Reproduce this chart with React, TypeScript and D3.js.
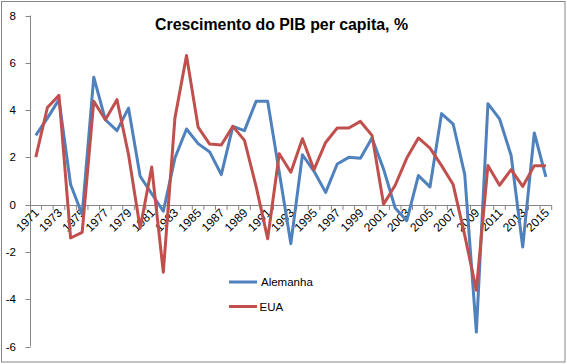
import React from 'react';
import * as d3 from 'd3';

const years = d3.range(1971, 2016).map(String);

const alemanha = [
  2.93, 3.66, 4.44, 0.85, -0.42, 5.39, 3.59, 3.13, 4.08, 1.2,
  0.46, -0.28, 1.97, 3.2, 2.58, 2.23, 1.27, 3.31, 3.13, 4.37,
  4.37, 1.37, -1.65, 2.11, 1.41, 0.52, 1.72, 2.0, 1.96, 2.82,
  1.5, -0.14, -0.68, 1.23, 0.75, 3.85, 3.41, 1.27, -5.39, 4.27,
  3.63, 2.08, -1.79, 3.03, 1.17,
];

const eua = [
  2.01, 4.11, 4.62, -1.41, -1.17, 4.37, 3.59, 4.44, 2.11, -1.0,
  1.59, -2.86, 3.66, 6.31, 3.28, 2.56, 2.52, 3.31, 2.72, 0.77,
  -1.44, 2.15, 1.37, 2.79, 1.48, 2.63, 3.24, 3.24, 3.52, 2.93,
  0.02, 0.82, 1.97, 2.82, 2.39, 1.65, 0.85, -1.3, -3.62, 1.66,
  0.82, 1.48, 0.77, 1.65, 1.65,
];

const yTicks = [-6, -4, -2, 0, 2, 4, 6, 8];

const series = [
  { name: 'Alemanha', values: alemanha, color: '#4F81BD' },
  { name: 'EUA', values: eua, color: '#C0504D' },
];

const W = 567;
const H = 364;
const font = '"Liberation Sans", Arial, sans-serif';
const axisColor = '#868686';

export default function App() {
  const x = d3.scaleBand().domain(years).range([30, 551.7]);
  const y = d3.scaleLinear().domain([-6, 8]).range([346.5, 15.5]);
  const cx = (yr: string) => (x(yr) as number) + x.bandwidth() / 2;

  const line = d3
    .line<number>()
    .x((_, i) => cx(years[i]))
    .y((d) => y(d));

  const y0 = y(0);

  return (
    <svg
      width={W}
      height={H}
      style={{ position: 'absolute', left: 0, top: 0, background: '#fff' }}
      fontFamily={font}
    >
      <rect x={1.5} y={1.5} width={563.5} height={360.5} fill="#fff" stroke={axisColor} strokeWidth={1} />

      <text x={281.5} y={29.5} textAnchor="middle" fontSize={16} fontWeight="bold" textLength={253} lengthAdjust="spacingAndGlyphs">
        Crescimento do PIB per capita, %
      </text>

      {/* y axis */}
      <line x1={30.5} x2={30.5} y1={y(8)} y2={y(-6)} stroke={axisColor} />
      {yTicks.map((t) => (
        <g key={t}>
          <line x1={25.5} x2={30.5} y1={Math.round(y(t)) + 0.5} y2={Math.round(y(t)) + 0.5} stroke={axisColor} />
          <text x={16} y={y(t) + 4} textAnchor="end" fontSize={11.5}>
            {t}
          </text>
        </g>
      ))}

      {/* x axis at 0 */}
      <line x1={30} x2={551.7} y1={Math.round(y0) + 0.5} y2={Math.round(y0) + 0.5} stroke={axisColor} />
      {years.map((yr) => (
        <line
          key={'t' + yr}
          x1={(x(yr) as number) + x.bandwidth()}
          x2={(x(yr) as number) + x.bandwidth()}
          y1={Math.round(y0) + 0.5}
          y2={Math.round(y0) + 5}
          stroke={axisColor}
        />
      ))}
      {years.map((yr, i) =>
        i % 2 === 0 ? (
          <text
            key={'l' + yr}
            transform={`translate(${cx(yr) + 4},${y0 + 9}) rotate(-45)`}
            textAnchor="end"
            fontSize={12}
          >
            {yr}
          </text>
        ) : null
      )}

      {series.map((s) => (
        <path key={s.name} d={line(s.values) ?? ''} fill="none" stroke={s.color} strokeWidth={3} strokeLinejoin="round" />
      ))}

      {/* legend */}
      {series.map((s, i) => (
        <g key={'lg' + s.name} transform={`translate(229,${282 + i * 24.5})`}>
          <line x1={0} x2={28} y1={0} y2={0} stroke={s.color} strokeWidth={3} />
          <text x={i === 0 ? 32 : 30.5} y={4} fontSize={11.5}>
            {s.name}
          </text>
        </g>
      ))}
    </svg>
  );
}
